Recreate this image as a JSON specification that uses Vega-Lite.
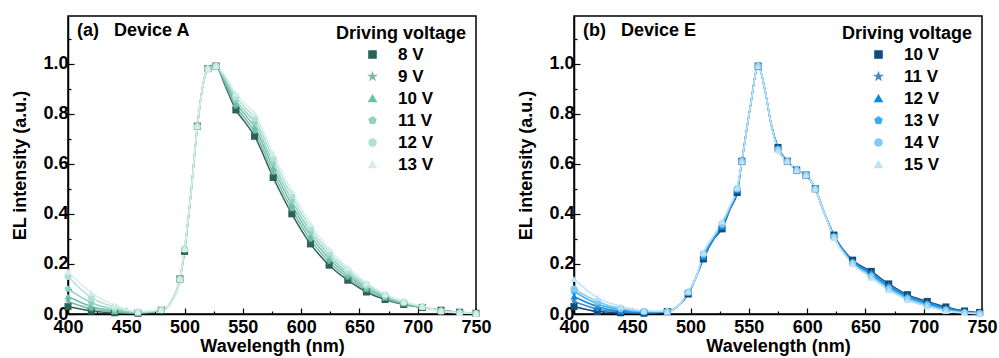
{
"$schema": "https://vega.github.io/schema/vega-lite/v6.json",
"padding": {"left": 11, "top": 15, "right": 0, "bottom": 0},
"background": "white",
"config": {
  "font": "Liberation Sans",
  "view": {"stroke": "black", "strokeWidth": 1.5},
  "axis": {"labelFontSize": 18, "labelFontWeight": "bold", "labelColor": "black", "titleFontSize": 18, "titleFontWeight": "bold", "titleColor": "black", "domainColor": "black", "domainWidth": 1.5, "tickColor": "black", "tickWidth": 1.2, "grid": false, "labelFlush": false, "labelOverlap": false},
  "title": {"fontSize": 18, "fontWeight": "bold", "color": "black", "anchor": "start", "frame": "group"},
  "legend": {"titleFontSize": 18, "titleFontWeight": "bold", "titleColor": "black", "labelFontSize": 17, "labelFontWeight": "bold", "labelColor": "black", "symbolStrokeWidth": 1.5}
},
"datasets": {
"a": [
{"w":400,"y":0.03,"v":"8 V","m":1},{"w":420,"y":0.012,"v":"8 V","m":1},{"w":440,"y":0.005,"v":"8 V","m":1},{"w":460,"y":0.003,"v":"8 V","m":1},{"w":480,"y":0.015,"v":"8 V","m":1},{"w":488,"y":0.045,"v":"8 V","m":0},{"w":496,"y":0.14,"v":"8 V","m":1},{"w":500,"y":0.25,"v":"8 V","m":1},{"w":505,"y":0.46,"v":"8 V","m":0},{"w":511,"y":0.75,"v":"8 V","m":1},{"w":516,"y":0.92,"v":"8 V","m":0},{"w":520,"y":0.98,"v":"8 V","m":1},{"w":524,"y":0.993,"v":"8 V","m":0},{"w":527,"y":0.99,"v":"8 V","m":1},{"w":535,"y":0.91,"v":"8 V","m":0},{"w":544,"y":0.815,"v":"8 V","m":1},{"w":552,"y":0.765,"v":"8 V","m":0},{"w":560,"y":0.71,"v":"8 V","m":1},{"w":576,"y":0.545,"v":"8 V","m":1},{"w":592,"y":0.40,"v":"8 V","m":1},{"w":608,"y":0.28,"v":"8 V","m":1},{"w":624,"y":0.195,"v":"8 V","m":1},{"w":640,"y":0.135,"v":"8 V","m":1},{"w":656,"y":0.088,"v":"8 V","m":1},{"w":672,"y":0.058,"v":"8 V","m":1},{"w":688,"y":0.038,"v":"8 V","m":1},{"w":704,"y":0.026,"v":"8 V","m":1},{"w":720,"y":0.015,"v":"8 V","m":1},{"w":736,"y":0.007,"v":"8 V","m":1},{"w":750,"y":0.003,"v":"8 V","m":1},
{"w":400,"y":0.05,"v":"9 V","m":1},{"w":420,"y":0.02,"v":"9 V","m":1},{"w":440,"y":0.008,"v":"9 V","m":1},{"w":460,"y":0.004,"v":"9 V","m":1},{"w":480,"y":0.015,"v":"9 V","m":1},{"w":488,"y":0.045,"v":"9 V","m":0},{"w":496,"y":0.14,"v":"9 V","m":1},{"w":500,"y":0.255,"v":"9 V","m":1},{"w":505,"y":0.46,"v":"9 V","m":0},{"w":511,"y":0.75,"v":"9 V","m":1},{"w":516,"y":0.92,"v":"9 V","m":0},{"w":520,"y":0.98,"v":"9 V","m":1},{"w":524,"y":0.993,"v":"9 V","m":0},{"w":527,"y":0.99,"v":"9 V","m":1},{"w":535,"y":0.918,"v":"9 V","m":0},{"w":544,"y":0.828,"v":"9 V","m":1},{"w":552,"y":0.78,"v":"9 V","m":0},{"w":560,"y":0.728,"v":"9 V","m":1},{"w":576,"y":0.564,"v":"9 V","m":1},{"w":592,"y":0.418,"v":"9 V","m":1},{"w":608,"y":0.296,"v":"9 V","m":1},{"w":624,"y":0.208,"v":"9 V","m":1},{"w":640,"y":0.145,"v":"9 V","m":1},{"w":656,"y":0.095,"v":"9 V","m":1},{"w":672,"y":0.062,"v":"9 V","m":1},{"w":688,"y":0.04,"v":"9 V","m":1},{"w":704,"y":0.027,"v":"9 V","m":1},{"w":720,"y":0.014,"v":"9 V","m":1},{"w":736,"y":0.007,"v":"9 V","m":1},{"w":750,"y":0.003,"v":"9 V","m":1},
{"w":400,"y":0.07,"v":"10 V","m":1},{"w":420,"y":0.03,"v":"10 V","m":1},{"w":440,"y":0.012,"v":"10 V","m":1},{"w":460,"y":0.005,"v":"10 V","m":1},{"w":480,"y":0.016,"v":"10 V","m":1},{"w":488,"y":0.045,"v":"10 V","m":0},{"w":496,"y":0.14,"v":"10 V","m":1},{"w":500,"y":0.26,"v":"10 V","m":1},{"w":505,"y":0.46,"v":"10 V","m":0},{"w":511,"y":0.75,"v":"10 V","m":1},{"w":516,"y":0.92,"v":"10 V","m":0},{"w":520,"y":0.98,"v":"10 V","m":1},{"w":524,"y":0.993,"v":"10 V","m":0},{"w":527,"y":0.99,"v":"10 V","m":1},{"w":535,"y":0.926,"v":"10 V","m":0},{"w":544,"y":0.841,"v":"10 V","m":1},{"w":552,"y":0.795,"v":"10 V","m":0},{"w":560,"y":0.746,"v":"10 V","m":1},{"w":576,"y":0.583,"v":"10 V","m":1},{"w":592,"y":0.436,"v":"10 V","m":1},{"w":608,"y":0.312,"v":"10 V","m":1},{"w":624,"y":0.221,"v":"10 V","m":1},{"w":640,"y":0.155,"v":"10 V","m":1},{"w":656,"y":0.103,"v":"10 V","m":1},{"w":672,"y":0.067,"v":"10 V","m":1},{"w":688,"y":0.043,"v":"10 V","m":1},{"w":704,"y":0.028,"v":"10 V","m":1},{"w":720,"y":0.014,"v":"10 V","m":1},{"w":736,"y":0.006,"v":"10 V","m":1},{"w":750,"y":0.002,"v":"10 V","m":1},
{"w":400,"y":0.10,"v":"11 V","m":1},{"w":420,"y":0.045,"v":"11 V","m":1},{"w":440,"y":0.018,"v":"11 V","m":1},{"w":460,"y":0.006,"v":"11 V","m":1},{"w":480,"y":0.016,"v":"11 V","m":1},{"w":488,"y":0.045,"v":"11 V","m":0},{"w":496,"y":0.14,"v":"11 V","m":1},{"w":500,"y":0.26,"v":"11 V","m":1},{"w":505,"y":0.46,"v":"11 V","m":0},{"w":511,"y":0.75,"v":"11 V","m":1},{"w":516,"y":0.92,"v":"11 V","m":0},{"w":520,"y":0.98,"v":"11 V","m":1},{"w":524,"y":0.993,"v":"11 V","m":0},{"w":527,"y":0.99,"v":"11 V","m":1},{"w":535,"y":0.934,"v":"11 V","m":0},{"w":544,"y":0.854,"v":"11 V","m":1},{"w":552,"y":0.81,"v":"11 V","m":0},{"w":560,"y":0.764,"v":"11 V","m":1},{"w":576,"y":0.602,"v":"11 V","m":1},{"w":592,"y":0.454,"v":"11 V","m":1},{"w":608,"y":0.328,"v":"11 V","m":1},{"w":624,"y":0.234,"v":"11 V","m":1},{"w":640,"y":0.165,"v":"11 V","m":1},{"w":656,"y":0.11,"v":"11 V","m":1},{"w":672,"y":0.071,"v":"11 V","m":1},{"w":688,"y":0.045,"v":"11 V","m":1},{"w":704,"y":0.028,"v":"11 V","m":1},{"w":720,"y":0.013,"v":"11 V","m":1},{"w":736,"y":0.006,"v":"11 V","m":1},{"w":750,"y":0.002,"v":"11 V","m":1},
{"w":400,"y":0.15,"v":"12 V","m":1},{"w":420,"y":0.065,"v":"12 V","m":1},{"w":440,"y":0.027,"v":"12 V","m":1},{"w":460,"y":0.008,"v":"12 V","m":1},{"w":480,"y":0.017,"v":"12 V","m":1},{"w":488,"y":0.045,"v":"12 V","m":0},{"w":496,"y":0.14,"v":"12 V","m":1},{"w":500,"y":0.26,"v":"12 V","m":1},{"w":505,"y":0.46,"v":"12 V","m":0},{"w":511,"y":0.75,"v":"12 V","m":1},{"w":516,"y":0.92,"v":"12 V","m":0},{"w":520,"y":0.98,"v":"12 V","m":1},{"w":524,"y":0.993,"v":"12 V","m":0},{"w":527,"y":0.99,"v":"12 V","m":1},{"w":535,"y":0.942,"v":"12 V","m":0},{"w":544,"y":0.867,"v":"12 V","m":1},{"w":552,"y":0.825,"v":"12 V","m":0},{"w":560,"y":0.782,"v":"12 V","m":1},{"w":576,"y":0.621,"v":"12 V","m":1},{"w":592,"y":0.472,"v":"12 V","m":1},{"w":608,"y":0.344,"v":"12 V","m":1},{"w":624,"y":0.247,"v":"12 V","m":1},{"w":640,"y":0.175,"v":"12 V","m":1},{"w":656,"y":0.118,"v":"12 V","m":1},{"w":672,"y":0.076,"v":"12 V","m":1},{"w":688,"y":0.048,"v":"12 V","m":1},{"w":704,"y":0.029,"v":"12 V","m":1},{"w":720,"y":0.012,"v":"12 V","m":1},{"w":736,"y":0.005,"v":"12 V","m":1},{"w":750,"y":0.002,"v":"12 V","m":1},
{"w":400,"y":0.17,"v":"13 V","m":1},{"w":420,"y":0.085,"v":"13 V","m":1},{"w":440,"y":0.035,"v":"13 V","m":1},{"w":460,"y":0.01,"v":"13 V","m":1},{"w":480,"y":0.017,"v":"13 V","m":1},{"w":488,"y":0.045,"v":"13 V","m":0},{"w":496,"y":0.14,"v":"13 V","m":1},{"w":500,"y":0.26,"v":"13 V","m":1},{"w":505,"y":0.46,"v":"13 V","m":0},{"w":511,"y":0.75,"v":"13 V","m":1},{"w":516,"y":0.92,"v":"13 V","m":0},{"w":520,"y":0.98,"v":"13 V","m":1},{"w":524,"y":0.993,"v":"13 V","m":0},{"w":527,"y":0.99,"v":"13 V","m":1},{"w":535,"y":0.95,"v":"13 V","m":0},{"w":544,"y":0.88,"v":"13 V","m":1},{"w":552,"y":0.84,"v":"13 V","m":0},{"w":560,"y":0.80,"v":"13 V","m":1},{"w":576,"y":0.64,"v":"13 V","m":1},{"w":592,"y":0.49,"v":"13 V","m":1},{"w":608,"y":0.36,"v":"13 V","m":1},{"w":624,"y":0.26,"v":"13 V","m":1},{"w":640,"y":0.185,"v":"13 V","m":1},{"w":656,"y":0.125,"v":"13 V","m":1},{"w":672,"y":0.08,"v":"13 V","m":1},{"w":688,"y":0.05,"v":"13 V","m":1},{"w":704,"y":0.03,"v":"13 V","m":1},{"w":720,"y":0.011,"v":"13 V","m":1},{"w":736,"y":0.005,"v":"13 V","m":1},{"w":750,"y":0.002,"v":"13 V","m":1}
],
"b": [
{"w":400,"y":0.03,"v":"10 V","m":1},{"w":420,"y":0.01,"v":"10 V","m":1},{"w":440,"y":0.005,"v":"10 V","m":1},{"w":460,"y":0.003,"v":"10 V","m":1},{"w":480,"y":0.01,"v":"10 V","m":1},{"w":490,"y":0.035,"v":"10 V","m":0},{"w":498,"y":0.08,"v":"10 V","m":1},{"w":505,"y":0.15,"v":"10 V","m":0},{"w":511,"y":0.22,"v":"10 V","m":1},{"w":520,"y":0.30,"v":"10 V","m":0},{"w":527,"y":0.34,"v":"10 V","m":1},{"w":534,"y":0.42,"v":"10 V","m":0},{"w":540,"y":0.485,"v":"10 V","m":1},{"w":544,"y":0.61,"v":"10 V","m":1},{"w":551,"y":0.82,"v":"10 V","m":0},{"w":558,"y":0.99,"v":"10 V","m":1},{"w":564,"y":0.89,"v":"10 V","m":0},{"w":569,"y":0.76,"v":"10 V","m":0},{"w":575,"y":0.665,"v":"10 V","m":1},{"w":583,"y":0.61,"v":"10 V","m":1},{"w":591,"y":0.575,"v":"10 V","m":1},{"w":599,"y":0.555,"v":"10 V","m":1},{"w":607,"y":0.50,"v":"10 V","m":1},{"w":615,"y":0.40,"v":"10 V","m":0},{"w":623,"y":0.315,"v":"10 V","m":1},{"w":639,"y":0.215,"v":"10 V","m":1},{"w":655,"y":0.17,"v":"10 V","m":1},{"w":670,"y":0.12,"v":"10 V","m":1},{"w":686,"y":0.077,"v":"10 V","m":1},{"w":703,"y":0.05,"v":"10 V","m":1},{"w":719,"y":0.028,"v":"10 V","m":1},{"w":735,"y":0.012,"v":"10 V","m":1},{"w":748,"y":0.006,"v":"10 V","m":1},
{"w":400,"y":0.05,"v":"11 V","m":1},{"w":420,"y":0.02,"v":"11 V","m":1},{"w":440,"y":0.008,"v":"11 V","m":1},{"w":460,"y":0.005,"v":"11 V","m":1},{"w":480,"y":0.01,"v":"11 V","m":1},{"w":490,"y":0.035,"v":"11 V","m":0},{"w":498,"y":0.082,"v":"11 V","m":1},{"w":505,"y":0.15,"v":"11 V","m":0},{"w":511,"y":0.225,"v":"11 V","m":1},{"w":520,"y":0.303,"v":"11 V","m":0},{"w":527,"y":0.345,"v":"11 V","m":1},{"w":534,"y":0.423,"v":"11 V","m":0},{"w":540,"y":0.49,"v":"11 V","m":1},{"w":544,"y":0.61,"v":"11 V","m":1},{"w":551,"y":0.82,"v":"11 V","m":0},{"w":558,"y":0.99,"v":"11 V","m":1},{"w":564,"y":0.89,"v":"11 V","m":0},{"w":569,"y":0.76,"v":"11 V","m":0},{"w":575,"y":0.665,"v":"11 V","m":1},{"w":583,"y":0.61,"v":"11 V","m":1},{"w":591,"y":0.575,"v":"11 V","m":1},{"w":599,"y":0.555,"v":"11 V","m":1},{"w":607,"y":0.50,"v":"11 V","m":1},{"w":615,"y":0.40,"v":"11 V","m":0},{"w":623,"y":0.313,"v":"11 V","m":1},{"w":639,"y":0.212,"v":"11 V","m":1},{"w":655,"y":0.165,"v":"11 V","m":1},{"w":670,"y":0.115,"v":"11 V","m":1},{"w":686,"y":0.073,"v":"11 V","m":1},{"w":703,"y":0.046,"v":"11 V","m":1},{"w":719,"y":0.025,"v":"11 V","m":1},{"w":735,"y":0.01,"v":"11 V","m":1},{"w":748,"y":0.005,"v":"11 V","m":1},
{"w":400,"y":0.07,"v":"12 V","m":1},{"w":420,"y":0.03,"v":"12 V","m":1},{"w":440,"y":0.012,"v":"12 V","m":1},{"w":460,"y":0.007,"v":"12 V","m":1},{"w":480,"y":0.01,"v":"12 V","m":1},{"w":490,"y":0.035,"v":"12 V","m":0},{"w":498,"y":0.084,"v":"12 V","m":1},{"w":505,"y":0.15,"v":"12 V","m":0},{"w":511,"y":0.23,"v":"12 V","m":1},{"w":520,"y":0.306,"v":"12 V","m":0},{"w":527,"y":0.35,"v":"12 V","m":1},{"w":534,"y":0.426,"v":"12 V","m":0},{"w":540,"y":0.495,"v":"12 V","m":1},{"w":544,"y":0.61,"v":"12 V","m":1},{"w":551,"y":0.82,"v":"12 V","m":0},{"w":558,"y":0.99,"v":"12 V","m":1},{"w":564,"y":0.89,"v":"12 V","m":0},{"w":569,"y":0.76,"v":"12 V","m":0},{"w":575,"y":0.66,"v":"12 V","m":1},{"w":583,"y":0.61,"v":"12 V","m":1},{"w":591,"y":0.575,"v":"12 V","m":1},{"w":599,"y":0.555,"v":"12 V","m":1},{"w":607,"y":0.50,"v":"12 V","m":1},{"w":615,"y":0.40,"v":"12 V","m":0},{"w":623,"y":0.311,"v":"12 V","m":1},{"w":639,"y":0.209,"v":"12 V","m":1},{"w":655,"y":0.16,"v":"12 V","m":1},{"w":670,"y":0.11,"v":"12 V","m":1},{"w":686,"y":0.069,"v":"12 V","m":1},{"w":703,"y":0.042,"v":"12 V","m":1},{"w":719,"y":0.022,"v":"12 V","m":1},{"w":735,"y":0.009,"v":"12 V","m":1},{"w":748,"y":0.004,"v":"12 V","m":1},
{"w":400,"y":0.09,"v":"13 V","m":1},{"w":420,"y":0.04,"v":"13 V","m":1},{"w":440,"y":0.018,"v":"13 V","m":1},{"w":460,"y":0.009,"v":"13 V","m":1},{"w":480,"y":0.01,"v":"13 V","m":1},{"w":490,"y":0.035,"v":"13 V","m":0},{"w":498,"y":0.086,"v":"13 V","m":1},{"w":505,"y":0.15,"v":"13 V","m":0},{"w":511,"y":0.235,"v":"13 V","m":1},{"w":520,"y":0.309,"v":"13 V","m":0},{"w":527,"y":0.355,"v":"13 V","m":1},{"w":534,"y":0.429,"v":"13 V","m":0},{"w":540,"y":0.50,"v":"13 V","m":1},{"w":544,"y":0.61,"v":"13 V","m":1},{"w":551,"y":0.82,"v":"13 V","m":0},{"w":558,"y":0.99,"v":"13 V","m":1},{"w":564,"y":0.89,"v":"13 V","m":0},{"w":569,"y":0.76,"v":"13 V","m":0},{"w":575,"y":0.66,"v":"13 V","m":1},{"w":583,"y":0.61,"v":"13 V","m":1},{"w":591,"y":0.575,"v":"13 V","m":1},{"w":599,"y":0.555,"v":"13 V","m":1},{"w":607,"y":0.50,"v":"13 V","m":1},{"w":615,"y":0.40,"v":"13 V","m":0},{"w":623,"y":0.309,"v":"13 V","m":1},{"w":639,"y":0.206,"v":"13 V","m":1},{"w":655,"y":0.155,"v":"13 V","m":1},{"w":670,"y":0.105,"v":"13 V","m":1},{"w":686,"y":0.065,"v":"13 V","m":1},{"w":703,"y":0.038,"v":"13 V","m":1},{"w":719,"y":0.018,"v":"13 V","m":1},{"w":735,"y":0.007,"v":"13 V","m":1},{"w":748,"y":0.003,"v":"13 V","m":1},
{"w":400,"y":0.10,"v":"14 V","m":1},{"w":420,"y":0.05,"v":"14 V","m":1},{"w":440,"y":0.022,"v":"14 V","m":1},{"w":460,"y":0.011,"v":"14 V","m":1},{"w":480,"y":0.01,"v":"14 V","m":1},{"w":490,"y":0.035,"v":"14 V","m":0},{"w":498,"y":0.088,"v":"14 V","m":1},{"w":505,"y":0.15,"v":"14 V","m":0},{"w":511,"y":0.24,"v":"14 V","m":1},{"w":520,"y":0.312,"v":"14 V","m":0},{"w":527,"y":0.36,"v":"14 V","m":1},{"w":534,"y":0.432,"v":"14 V","m":0},{"w":540,"y":0.50,"v":"14 V","m":1},{"w":544,"y":0.61,"v":"14 V","m":1},{"w":551,"y":0.82,"v":"14 V","m":0},{"w":558,"y":0.99,"v":"14 V","m":1},{"w":564,"y":0.89,"v":"14 V","m":0},{"w":569,"y":0.76,"v":"14 V","m":0},{"w":575,"y":0.655,"v":"14 V","m":1},{"w":583,"y":0.61,"v":"14 V","m":1},{"w":591,"y":0.575,"v":"14 V","m":1},{"w":599,"y":0.555,"v":"14 V","m":1},{"w":607,"y":0.50,"v":"14 V","m":1},{"w":615,"y":0.40,"v":"14 V","m":0},{"w":623,"y":0.307,"v":"14 V","m":1},{"w":639,"y":0.203,"v":"14 V","m":1},{"w":655,"y":0.15,"v":"14 V","m":1},{"w":670,"y":0.10,"v":"14 V","m":1},{"w":686,"y":0.06,"v":"14 V","m":1},{"w":703,"y":0.034,"v":"14 V","m":1},{"w":719,"y":0.015,"v":"14 V","m":1},{"w":735,"y":0.005,"v":"14 V","m":1},{"w":748,"y":0.002,"v":"14 V","m":1},
{"w":400,"y":0.14,"v":"15 V","m":1},{"w":420,"y":0.065,"v":"15 V","m":1},{"w":440,"y":0.03,"v":"15 V","m":1},{"w":460,"y":0.013,"v":"15 V","m":1},{"w":480,"y":0.01,"v":"15 V","m":1},{"w":490,"y":0.035,"v":"15 V","m":0},{"w":498,"y":0.09,"v":"15 V","m":1},{"w":505,"y":0.15,"v":"15 V","m":0},{"w":511,"y":0.245,"v":"15 V","m":1},{"w":520,"y":0.315,"v":"15 V","m":0},{"w":527,"y":0.37,"v":"15 V","m":1},{"w":534,"y":0.435,"v":"15 V","m":0},{"w":540,"y":0.505,"v":"15 V","m":1},{"w":544,"y":0.61,"v":"15 V","m":1},{"w":551,"y":0.82,"v":"15 V","m":0},{"w":558,"y":0.99,"v":"15 V","m":1},{"w":564,"y":0.89,"v":"15 V","m":0},{"w":569,"y":0.76,"v":"15 V","m":0},{"w":575,"y":0.655,"v":"15 V","m":1},{"w":583,"y":0.61,"v":"15 V","m":1},{"w":591,"y":0.575,"v":"15 V","m":1},{"w":599,"y":0.555,"v":"15 V","m":1},{"w":607,"y":0.50,"v":"15 V","m":1},{"w":615,"y":0.40,"v":"15 V","m":0},{"w":623,"y":0.305,"v":"15 V","m":1},{"w":639,"y":0.20,"v":"15 V","m":1},{"w":655,"y":0.145,"v":"15 V","m":1},{"w":670,"y":0.095,"v":"15 V","m":1},{"w":686,"y":0.055,"v":"15 V","m":1},{"w":703,"y":0.03,"v":"15 V","m":1},{"w":719,"y":0.012,"v":"15 V","m":1},{"w":735,"y":0.004,"v":"15 V","m":1},{"w":748,"y":0.002,"v":"15 V","m":1}
]
},
"hconcat": [
{
  "width": 408, "height": 298,
  "title": {"text": "(a)\u00a0\u00a0\u00a0Device A", "offset": -24, "dx": 9},
  "data": {"name": "a"},
  "layer": [
    {"mark": {"type": "line", "interpolate": "monotone", "strokeWidth": 1.5},
     "encoding": {
       "x": {"field": "w", "type": "quantitative", "scale": {"domain": [400, 750], "nice": false, "zero": false}, "axis": {"orient": "bottom", "values": [400,450,500,550,600,650,700,750], "title": "Wavelength (nm)", "tickSize": -6, "labelPadding": 10, "titlePadding": 1}},
       "y": {"field": "y", "type": "quantitative", "scale": {"domain": [0, 1.19], "nice": false}, "axis": {"orient": "left", "values": [0,0.2,0.4,0.6,0.8,1.0], "format": ".1f", "title": "EL intensity (a.u.)", "tickSize": -6, "labelPadding": 6, "titlePadding": 13}},
       "color": {"field": "v", "type": "nominal", "scale": {"domain": ["8 V","9 V","10 V","11 V","12 V","13 V"], "range": ["#2b6356","#7db8a9","#6cc0ab","#8fd2c1","#b3e0d5","#d5efe8"]}, "legend": {"title": "Driving voltage", "orient": "top-right", "offset": 9, "symbolSize": 50, "rowPadding": 4, "labelOffset": 17, "titlePadding": 3, "symbolOffset": 28}}
     }},
    {"transform": [{"filter": "datum.m == 1"}],
     "mark": {"type": "point", "filled": true, "opacity": 1, "size": 50},
     "encoding": {
       "x": {"field": "w", "type": "quantitative", "axis": {"orient": "bottom", "values": [425,475,525,575,625,675,725], "labels": false, "domain": false, "title": null, "tickSize": -3}},
       "y": {"field": "y", "type": "quantitative", "axis": {"orient": "left", "values": [0.1,0.3,0.5,0.7,0.9,1.1], "labels": false, "domain": false, "title": null, "tickSize": -3}},
       "color": {"field": "v", "type": "nominal", "legend": {"title": "Driving voltage", "orient": "top-right", "offset": 9, "symbolSize": 50, "rowPadding": 4, "labelOffset": 17, "titlePadding": 3, "symbolOffset": 28}},
       "shape": {"field": "v", "type": "nominal", "scale": {"domain": ["8 V","9 V","10 V","11 V","12 V","13 V"], "range": ["square","M0,-1L0.235,-0.324L0.951,-0.309L0.38,0.124L0.588,0.809L0,0.4L-0.588,0.809L-0.38,0.124L-0.951,-0.309L-0.235,-0.324Z","triangle-up","M0,-1L0.951,-0.309L0.588,0.809L-0.588,0.809L-0.951,-0.309Z","circle","triangle-up"]}, "legend": null}
     }}
  ],
  "resolve": {"axis": {"x": "independent", "y": "independent"}}
},
{
  "width": 408, "height": 298,
  "title": {"text": "(b)\u00a0\u00a0\u00a0Device E", "offset": -24, "dx": 9},
  "data": {"name": "b"},
  "layer": [
    {"mark": {"type": "line", "interpolate": "monotone", "strokeWidth": 1.5},
     "encoding": {
       "x": {"field": "w", "type": "quantitative", "scale": {"domain": [400, 750], "nice": false, "zero": false}, "axis": {"orient": "bottom", "values": [400,450,500,550,600,650,700,750], "title": "Wavelength (nm)", "tickSize": -6, "labelPadding": 10, "titlePadding": 1}},
       "y": {"field": "y", "type": "quantitative", "scale": {"domain": [0, 1.19], "nice": false}, "axis": {"orient": "left", "values": [0,0.2,0.4,0.6,0.8,1.0], "format": ".1f", "title": "EL intensity (a.u.)", "tickSize": -6, "labelPadding": 6, "titlePadding": 13}},
       "color": {"field": "v", "type": "nominal", "scale": {"domain": ["10 V","11 V","12 V","13 V","14 V","15 V"], "range": ["#0e4c7c","#4b88c2","#0b8ae6","#35aef5","#7fcbf3","#bfe2f7"]}, "legend": {"title": "Driving voltage", "orient": "top-right", "offset": 9, "symbolSize": 50, "rowPadding": 4, "labelOffset": 17, "titlePadding": 3, "symbolOffset": 28}}
     }},
    {"transform": [{"filter": "datum.m == 1"}],
     "mark": {"type": "point", "filled": true, "opacity": 1, "size": 50},
     "encoding": {
       "x": {"field": "w", "type": "quantitative", "axis": {"orient": "bottom", "values": [425,475,525,575,625,675,725], "labels": false, "domain": false, "title": null, "tickSize": -3}},
       "y": {"field": "y", "type": "quantitative", "axis": {"orient": "left", "values": [0.1,0.3,0.5,0.7,0.9,1.1], "labels": false, "domain": false, "title": null, "tickSize": -3}},
       "color": {"field": "v", "type": "nominal", "legend": {"title": "Driving voltage", "orient": "top-right", "offset": 9, "symbolSize": 50, "rowPadding": 4, "labelOffset": 17, "titlePadding": 3, "symbolOffset": 28}},
       "shape": {"field": "v", "type": "nominal", "scale": {"domain": ["10 V","11 V","12 V","13 V","14 V","15 V"], "range": ["square","M0,-1L0.235,-0.324L0.951,-0.309L0.38,0.124L0.588,0.809L0,0.4L-0.588,0.809L-0.38,0.124L-0.951,-0.309L-0.235,-0.324Z","triangle-up","M0,-1L0.951,-0.309L0.588,0.809L-0.588,0.809L-0.951,-0.309Z","circle","triangle-up"]}, "legend": null}
     }}
  ],
  "resolve": {"axis": {"x": "independent", "y": "independent"}}
}
],
"spacing": 98,
"bounds": "flush",
"resolve": {"scale": {"color": "independent", "shape": "independent"}, "legend": {"color": "independent", "shape": "independent"}}
}
